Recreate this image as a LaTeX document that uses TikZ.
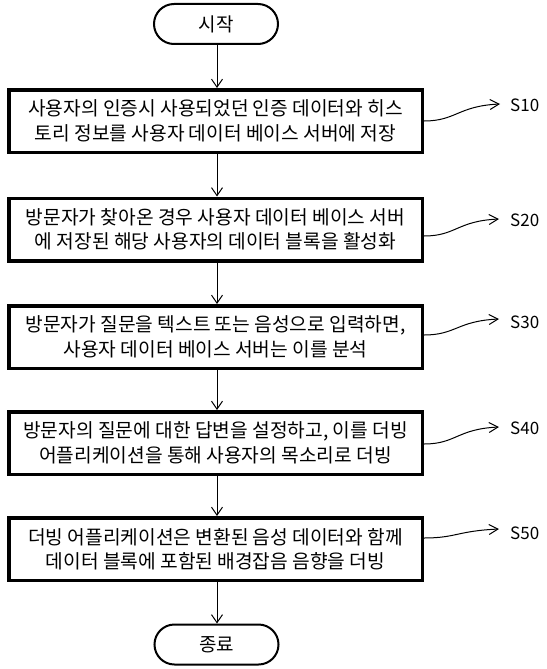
\documentclass[tikz,border=0pt]{standalone}
\usepackage{fontspec}
\setmainfont{Noto Sans CJK KR}
\usetikzlibrary{arrows.meta,calc}
\tikzset{
  stepbox/.style={draw, line width=3.5pt, minimum width=413.5pt, minimum height=62.5pt, inner sep=0pt, align=center, font=\fontsize{19.2}{24.5}\selectfont},
  term/.style={draw, line width=2pt, rounded corners=20pt, minimum width=124pt, minimum height=40pt, inner sep=0pt, font=\fontsize{19}{22}\selectfont},
  flow/.style={line width=1pt, -{Straight Barb[length=8pt,width=11pt,line width=1pt]}},
  lead/.style={line width=1pt, -{Straight Barb[length=9pt,width=10pt,line width=1pt]}},
  lbl/.style={anchor=west, inner sep=0pt, font=\fontsize{17}{20}\selectfont}
}
\begin{document}
\begin{tikzpicture}[x=1pt,y=-1pt]
\useasboundingbox (0,0) rectangle (546,669);
\node[term] (start) at (216,24) {시작};
\node[stepbox] (b1) at (215.5,121) {사용자의 인증시 사용되었던 인증 데이터와 히스\\토리 정보를 사용자 데이터 베이스 서버에 저장};
\node[stepbox] (b2) at (215.5,229.5) {방문자가 찾아온 경우 사용자 데이터 베이스 서버\\에 저장된 해당 사용자의 데이터 블록을 활성화};
\node[stepbox] (b3) at (215.5,337) {방문자가 질문을 텍스트 또는 음성으로 입력하면,\\사용자 데이터 베이스 서버는 이를 분석};
\node[stepbox] (b4) at (215.5,443) {방문자의 질문에 대한 답변을 설정하고, 이를 더빙\\어플리케이션을 통해 사용자의 목소리로 더빙};
\node[stepbox] (b5) at (215.5,549) {더빙 어플리케이션은 변환된 음성 데이터와 함께\\데이터 블록에 포함된 배경잡음 음향을 더빙};
\node[term] (end) at (216.5,644.5) {종료};

\draw[flow] (start.south -| 217,0) -- (b1.north -| 217,0);
\draw[flow] (b1.south -| 217,0) -- (b2.north -| 217,0);
\draw[flow] (b2.south -| 217,0) -- (b3.north -| 217,0);
\draw[flow] (b3.south -| 217,0) -- (b4.north -| 217,0);
\draw[flow] (b4.south -| 217,0) -- (b5.north -| 217,0);
\draw[flow] (b5.south -| 217,0) -- (end.north -| 217,0);

\coordinate (c1) at (424,121);
\coordinate (c2) at (424,236);
\coordinate (c3) at (424,335);
\coordinate (c4) at (424,444);
\coordinate (c5) at (424,538);
\coordinate (t1) at (500,104);
\coordinate (t2) at (499,219);
\coordinate (t3) at (499,319);
\coordinate (t4) at (499,427);
\coordinate (t5) at (499,529);
\node[lbl] (s1) at (510,105) {S10};
\node[lbl] (s2) at (510,220) {S20};
\node[lbl] (s3) at (510,322) {S30};
\node[lbl] (s4) at (510,428) {S40};
\node[lbl] (s5) at (510,533) {S50};
\foreach \i in {1,...,5}{
  \draw[lead] (c\i) .. controls ($(c\i)+(32,0)$) and ($(t\i)+(-42,2)$) .. (t\i);
}
\end{tikzpicture}
\end{document}
